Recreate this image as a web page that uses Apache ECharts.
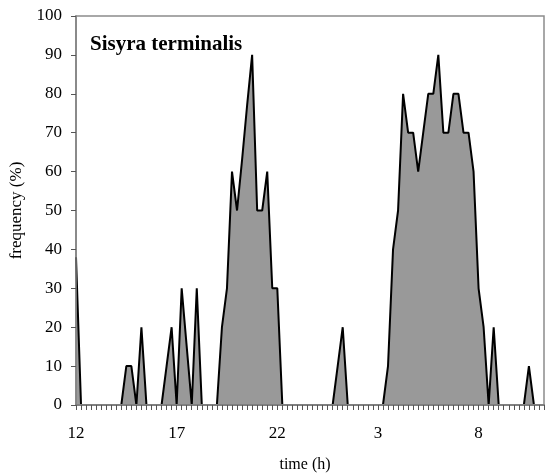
<!DOCTYPE html>
<html>
<head>
<meta charset="utf-8">
<script src="https://cdn.jsdelivr.net/npm/echarts@6/dist/echarts.min.js"></script>
<style>
html,body{margin:0;padding:0;background:#fff;}
#c{width:545px;height:473px;}
</style>
</head>
<body>
<div id="c"></div>
<script>
// time of day, one category every 15 min starting at 12:00
var startHour = 12;
var stepsPerHour = 4;
var nCategories = 94;
var categories = [];
for (var k = 0; k < nCategories; k++) {
  var h = (startHour + Math.floor(k / stepsPerHour)) % 24;
  var m = (k % stepsPerHour) * 15;
  categories.push(h + ':' + (m < 10 ? '0' + m : m));
}
var tickLabels = ['12', '17', '22', '3', '8'];
var labelEvery = 20;

var frequency = [
  38, 0, 0, 0, 0, 0, 0, 0, 0, 0,
  10, 10, 0, 20, 0, 0, 0, 0, 10, 20,
  0, 30, 15, 0, 30, 0, 0, 0, 0, 20,
  30, 60, 50, 63, 77, 90, 50, 50, 60, 30,
  30, 0, 0, 0, 0, 0, 0, 0, 0, 0,
  0, 0, 10, 20, 0, 0, 0, 0, 0, 0,
  0, 0, 10, 40, 50, 80, 70, 70, 60, 70,
  80, 80, 90, 70, 70, 80, 80, 70, 70, 60,
  30, 20, 0, 20, 0, 0, 0, 0, 0, 0,
  10, 0, 0, 0
];

var yTicks = [0, 10, 20, 30, 40, 50, 60, 70, 80, 90, 100];

var serif = '"Liberation Serif", "Times New Roman", serif';
var chart = echarts.init(document.getElementById('c'), null, {renderer: 'canvas'});
chart.setOption({
  animation: false,
  backgroundColor: '#ffffff',
  title: {
    text: 'Sisyra terminalis',
    left: 85,
    top: 29,
    textStyle: {fontFamily: serif, fontWeight: 'bold', fontSize: 21, color: '#000'}
  },
  grid: {
    left: 76, top: 16, right: 1, bottom: 68,
    containLabel: false,
    outerBoundsMode: 'none',
    show: true, borderColor: '#8c8c8c', borderWidth: 1.5, backgroundColor: 'transparent'
  },
  xAxis: {
    type: 'category',
    data: categories,
    boundaryGap: false,
    z: 5,
    name: 'time (h)',
    nameLocation: 'middle',
    nameGap: 52,
    nameTextStyle: {fontFamily: serif, fontSize: 16, color: '#000', padding: [0, 10, 0, 0]},
    axisLine: {lineStyle: {color: '#808080', width: 2}},
    axisTick: {show: true, interval: 0, length: 5, lineStyle: {color: '#555', width: 1}},
    axisLabel: {
      interval: labelEvery - 1,
      margin: 20,
      fontFamily: serif, fontSize: 17, color: '#000',
      formatter: function (v, i) { return tickLabels[Math.round(i / labelEvery)] || ''; }
    },
    splitLine: {show: false}
  },
  yAxis: {
    type: 'value',
    min: yTicks[0],
    max: yTicks[yTicks.length - 1],
    interval: yTicks[1] - yTicks[0],
    z: 5,
    name: 'frequency (%)',
    nameLocation: 'middle',
    nameGap: 51,
    nameTextStyle: {fontFamily: serif, fontSize: 17, color: '#000'},
    axisLine: {show: true, lineStyle: {color: '#808080', width: 1.5}},
    axisTick: {show: true, length: 5, lineStyle: {color: '#555'}},
    axisLabel: {margin: 14, fontFamily: serif, fontSize: 17, color: '#000'},
    splitLine: {show: false}
  },
  series: [{
    type: 'line',
    data: frequency,
    showSymbol: false,
    symbol: 'none',
    lineStyle: {color: '#000', width: 2},
    areaStyle: {color: '#999999', opacity: 1},
    z: 1
  }]
});
</script>
</body>
</html>
